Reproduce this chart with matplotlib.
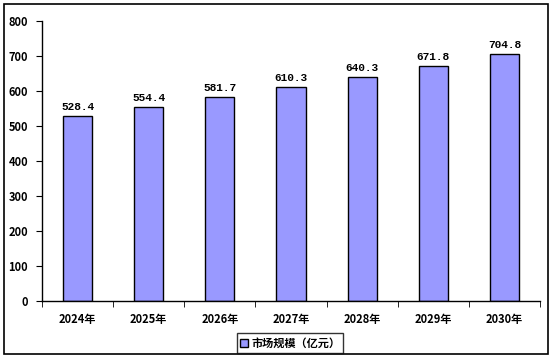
import matplotlib
matplotlib.use("Agg")
import matplotlib.pyplot as plt
from matplotlib.patches import Rectangle

plt.rcParams['font.family'] = ['Noto Sans CJK SC', 'DejaVu Sans']

categories = ["2024年", "2025年", "2026年", "2027年", "2028年", "2029年", "2030年"]
values = [528.4, 554.4, 581.7, 610.3, 640.3, 671.8, 704.8]
value_labels = ["528.4", "554.4", "581.7", "610.3", "640.3", "671.8", "704.8"]
series_name = "市场规模（亿元）"
yticks = [0, 100, 200, 300, 400, 500, 600, 700, 800]

W, H = 554, 360
fig = plt.figure(figsize=(W/100, H/100), dpi=100)
fig.patches.append(Rectangle((4/W, 6/H), 544/W, 350/H, transform=fig.transFigure,
                             fill=False, edgecolor='black', linewidth=1.2))

ax = fig.add_axes([42/W, 1-301/H, 498/W, 280/H])
x = list(range(len(categories)))
bars = ax.bar(x, values, width=0.41, color='#9999FF', edgecolor='black', linewidth=1.0,
              label=series_name)
for xi, v, lab in zip(x, values, value_labels):
    ax.text(xi, v + 12, lab, ha='center', va='bottom', fontsize=8,
            family=['Liberation Mono', 'DejaVu Sans Mono'], fontweight='bold')

ax.set_xlim(-0.5, len(categories) - 0.5)
ax.set_ylim(0, 800)
ax.set_yticks(yticks)
ax.set_yticklabels([str(t) for t in yticks], fontsize=8, fontweight='bold')
ax.set_xticks(x)
ax.set_xticklabels(categories, fontsize=8, fontweight='bold')
ax.tick_params(axis='x', length=0, pad=9)
ax.set_xticks([i - 0.5 for i in range(len(categories) + 1)], minor=True)
ax.tick_params(axis='x', which='minor', length=4, direction='out')
ax.tick_params(axis='y', length=4, direction='out', pad=6)
for s in ['top', 'right']:
    ax.spines[s].set_visible(False)
for s in ['left', 'bottom']:
    ax.spines[s].set_linewidth(1.0)

leg = fig.legend(handles=[bars], labels=[series_name], loc='center',
                 bbox_to_anchor=(290/W, 1-343/H), frameon=True, fancybox=False,
                 edgecolor='black', handlelength=0.7, handleheight=0.7,
                 handletextpad=0.3, borderpad=0.3, prop={'weight': 'bold', 'size': 8})
leg.get_frame().set_linewidth(1.0)

fig.savefig("out.png", dpi=100)
